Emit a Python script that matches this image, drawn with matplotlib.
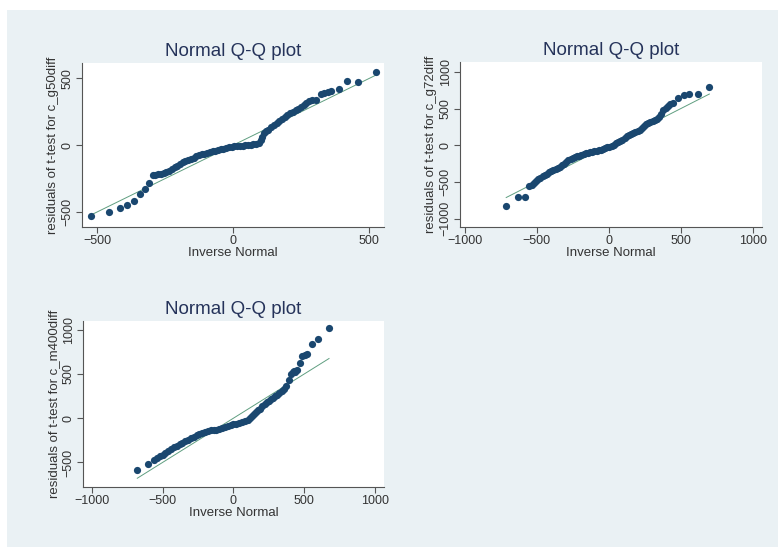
import matplotlib
matplotlib.use("Agg")
import matplotlib.pyplot as plt
from matplotlib.patches import Rectangle
import numpy as np

plt.rcParams['font.family'] = ['Liberation Sans', 'DejaVu Sans']

# ---- data ----
p1_x = [-522, -457, -417, -388, -363, -342, -323, -308,
        -295, -285, -275, -265, -255, -245, -235, -226, -215, -205, -195, -185, -175, -165, -155, -145,
        -135, -125, -115, -105, -95, -85, -75, -65, -55, -45, -35, -25, -15, -5,
        5, 15, 25, 35, 45, 55, 65, 75, 85, 95,
        102, 108, 115, 122, 130,
        140, 150, 160, 170, 180, 190, 200, 210, 220, 230, 240, 250, 260, 270, 280,
        292, 305, 322, 335, 348, 362, 389, 420, 460, 524]
p1_y = [-532, -502, -470, -445, -415, -366, -328, -286,
        -225, -222, -218, -212, -206, -198, -190, -180, -165, -152, -140, -128, -118, -108, -100, -92,
        -84, -76, -68, -62, -56, -50, -45, -40, -36, -31, -26, -20, -15, -11,
        -7, -5, -3, -2, 0, 2, 5, 8, 12, 20,
        40, 65, 90, 105, 115,
        135, 150, 170, 185, 200, 215, 228, 240, 252, 262, 275, 285, 300, 318, 330,
        338, 340, 385, 395, 402, 405, 420, 478, 472, 552]

p2_x = [-713, -632, -581, -551,
        -535, -520, -505, -490, -475, -460, -445, -430, -415, -400, -385, -370, -355, -340, -325, -310,
        -295, -280, -265, -250, -235, -220, -205, -190, -175, -160, -145, -130, -115, -100, -85, -70,
        -55, -40, -25, -10,
        5, 20, 35, 50, 65, 80, 95, 110, 125, 140, 155, 170, 185, 200, 215, 230, 245, 260, 275, 290,
        305, 320, 335, 350, 365, 380, 395, 410, 425,
        445, 483, 523, 560, 622, 699]
p2_y = [-835, -709, -700, -560,
        -540, -515, -490, -460, -440, -420, -402, -388, -370, -355, -340, -325, -310, -295, -275, -250,
        -225, -200, -185, -175, -165, -152, -140, -128, -118, -108, -100, -93, -86, -78, -72, -66,
        -60, -52, -42, -30,
        -18, -4, 10, 25, 42, 58, 75, 95, 125, 140, 152, 168, 182, 198, 215, 238, 262, 288, 305, 318,
        328, 345, 362, 390, 430, 480, 510, 535, 565,
        580, 650, 690, 700, 694, 794]

p3_x = [-678, -601,
        -560, -540, -520, -500, -480, -460, -440, -420, -400, -380, -360, -340, -320, -300, -280, -260,
        -240, -220, -200, -180, -160, -140, -120, -100, -80, -60, -40, -20, 0, 20, 40, 60, 80, 100,
        115, 130, 145, 160, 175, 190, 205, 220, 235, 250, 265, 280, 295, 310, 325, 340, 355, 370,
        390, 408, 418, 428, 438, 448, 469, 486, 505, 521, 556, 598, 675]
p3_y = [-585, -515,
        -470, -450, -430, -410, -390, -370, -350, -330, -310, -295, -280, -262, -245, -228, -212, -192,
        -175, -162, -150, -142, -138, -135, -128, -118, -108, -98, -88, -80, -70, -62, -55, -48, -35, -20,
        0, 30, 50, 68, 88, 110, 135, 160, 182, 200, 215, 230, 248, 262, 280, 305, 335, 370,
        432, 505, 525, 530, 525, 540, 621, 705, 720, 727, 835, 890, 1015]

ylabels = ["residuals of t-test for c_g50diff",
           "residuals of t-test for c_g72diff",
           "residuals of t-test for c_m400diff"]
xticks = [[-500, 0, 500], [-1000, -500, 0, 500, 1000], [-1000, -500, 0, 500, 1000]]
yticks = [[-500, 0, 500], [-1000, -500, 0, 500, 1000], [-500, 0, 500, 1000]]

W, H = 778, 547
BG = "#eaf1f4"
fig = plt.figure(figsize=(W / 100, H / 100), dpi=100, facecolor=BG)
# thin white margin along the top and left edges
fig.add_artist(Rectangle((0, 1 - 10 / H), 1, 10 / H, transform=fig.transFigure,
                         facecolor="white", edgecolor="none", zorder=-10))
fig.add_artist(Rectangle((0, 0), 7 / W, 1, transform=fig.transFigure,
                         facecolor="white", edgecolor="none", zorder=-10))


def px_axes(left, top, right, bottom):
    return fig.add_axes([left / W, 1 - bottom / H, (right - left) / W, (bottom - top) / H])


boxes = [(82, 63, 384, 227), (460, 62, 762, 227), (83, 321, 384, 487)]
limits = [((-555, 555), (-612, 616)), ((-1034, 1065), (-1115, 1136)), ((-1061, 1063), (-777, 1099))]
data = [(p1_x, p1_y), (p2_x, p2_y), (p3_x, p3_y)]

for i in range(3):
    ax = px_axes(*boxes[i])
    ax.set_facecolor("white")
    x, y = np.array(data[i][0]), np.array(data[i][1])
    ax.plot([x.min(), x.max()], [x.min(), x.max()], color="#5f9e80", lw=0.7, zorder=2)
    ax.plot(x, y, 'o', color="#1a476f", ms=5.2, mew=0, zorder=3)
    ax.set_xlim(*limits[i][0])
    ax.set_ylim(*limits[i][1])
    ax.set_xticks(xticks[i])
    ax.set_yticks(yticks[i])
    for s in ["top", "right"]:
        ax.spines[s].set_visible(False)
    for s in ["left", "bottom"]:
        ax.spines[s].set_color("#555555")
        ax.spines[s].set_linewidth(0.8)
    ax.tick_params(direction="out", length=4.5, width=0.8, color="#555555",
                   labelsize=9, labelcolor="#333333", pad=1.5)
    ax.tick_params(axis="y", labelrotation=90)
    for lab in ax.get_yticklabels():
        lab.set_va("center")
    ax.set_xlabel("Inverse Normal", fontsize=9.5, color="#333333", labelpad=0)
    ax.set_ylabel(ylabels[i], fontsize=9.5, color="#333333", labelpad=2)
    ax.set_title("Normal Q-Q plot", fontsize=13.5, color="#25335a", pad=5)

fig.savefig("out.png", dpi=100, facecolor=BG)
